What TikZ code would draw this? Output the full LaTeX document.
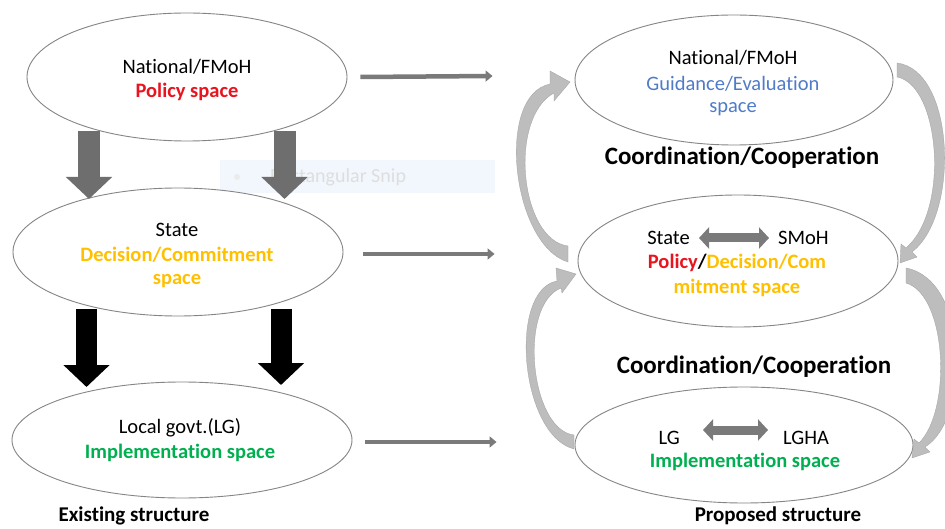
\documentclass[tikz,border=0pt]{standalone}
\usepackage{fontspec}
\setmainfont{Carlito}[Ligatures=NoCommon]
\usetikzlibrary{arrows.meta,calc,shapes.geometric}
\definecolor{ringgray}{HTML}{858585}
\definecolor{flowgray}{HTML}{7A7A7A}
\definecolor{blockgray}{HTML}{6E6E6E}
\definecolor{loopgray}{HTML}{BDBDBD}
\definecolor{policyred}{HTML}{E8141E}
\definecolor{decisiongold}{HTML}{FFC000}
\definecolor{guideblue}{HTML}{4F7BC8}
\definecolor{implgreen}{HTML}{00B050}
\definecolor{snipblue}{HTML}{F2F7FD}
\begin{document}
\begin{tikzpicture}[x=1pt,y=-1pt,
  space/.style={ellipse, draw=ringgray, line width=0.9pt, fill=white, inner sep=0pt},
  txt/.style={inner sep=0pt, font=\fontsize{20.5}{24}\selectfont},
  btxt/.style={inner sep=0pt, font=\fontsize{20.5}{24}\selectfont\bfseries},
  lbl/.style={inner sep=0pt, font=\fontsize{21}{24}\selectfont\bfseries},
  coord/.style={inner sep=0pt, font=\fontsize{25}{28}\selectfont\bfseries},
  flow/.style={draw=flowgray, line width=4.5pt, -{Triangle[width=11pt,length=7pt]}},
  downgray/.style={draw=blockgray, line width=22pt, -{Triangle[width=45pt,length=22pt]}},
  downblack/.style={draw=black, line width=21pt, -{Triangle[width=45pt,length=22pt]}},
  both/.style={draw=flowgray, line width=9pt, {Triangle[width=21pt,length=10pt]}-{Triangle[width=21pt,length=10pt]}},
  loop/.style={fill=loopgray, draw=loopgray!85!black, line width=0.3pt}
]
\useasboundingbox (0,0) rectangle (945,529);
\fill[white] (0,0) rectangle (945,529);

% faint snipping-tool overlay
\fill[snipblue] (220,160) rectangle (495,193);
\fill[black!8] (237,177) circle (3pt);
\node[inner sep=0pt, text=black!13, font=\fontsize{20}{22}\selectfont, anchor=west] (snip) at (270,177) {Rectangular Snip};

% ---------- existing structure ----------
\node[space, minimum width=320pt, minimum height=128pt] (ltop) at (187,77) {};
\node[space, minimum width=330pt, minimum height=128pt] (lmid) at (178,252) {};
\node[space, minimum width=340pt, minimum height=116pt] (lbot) at (182,440) {};

\node[txt] (ltopa) at (187,67) {National/FMoH};
\node[btxt, text=policyred] (ltopb) at (187,92) {Policy space};
\node[txt] (lmida) at (177,230) {State};
\node[btxt, text=decisiongold] (lmidb) at (177,255) {Decision/Commitment};
\node[btxt, text=decisiongold] (lmidc) at (177,281) {space};
\node[txt] (lbota) at (180,428) {Local govt.(LG)};
\node[btxt, text=implgreen] (lbotb) at (180,453) {Implementation space};

% block arrows between levels
\draw[downgray] (89,131) -- (89,199);
\draw[downgray] (284.5,131) -- (284.5,199);
\draw[downblack] (86.5,309) -- (86.5,387);
\draw[downblack] (281,309) -- (281,385);

\node[lbl] (exist) at (134,516) {Existing structure};

% ---------- proposed structure ----------
\node[space, minimum width=318pt, minimum height=130pt] (rtop) at (734,80) {};
\node[space, minimum width=320pt, minimum height=132pt] (rmid) at (738,261) {};
\node[space, minimum width=338pt, minimum height=116pt] (rbot) at (744,445) {};

\node[txt] (rtopa) at (733,58) {National/FMoH};
\node[txt, text=guideblue] (rtopb) at (733,84) {Guidance/Evaluation};
\node[txt, text=guideblue] (rtopc) at (733,109) {space};

\node[coord] (coop1) at (742,158) {Coordination/Cooperation};

\node[txt, anchor=east] (state) at (690,238) {State};
\node[txt, anchor=west] (smoh) at (778,238) {SMoH};
\draw[both] ($(state.east)+(9,0)$) -- ($(smoh.west)+(-9,0)$);
\node[btxt] (rmidb) at (737,263) {\textcolor{policyred}{Policy}/\textcolor{decisiongold}{Decision/Com}};
\node[btxt, text=decisiongold] (rmidc) at (737,288) {mitment space};

\node[coord] (coop2) at (754,367) {Coordination/Cooperation};

\node[txt, anchor=east] (lg) at (680,438) {LG};
\node[txt, anchor=west] (lgha) at (783,438) {LGHA};
\draw[both] (703,430) -- (768,430);
\node[btxt, text=implgreen] (rbotb) at (745,462) {Implementation space};

\node[lbl] (propose) at (778,516) {Proposed structure};

% mapping arrows from existing to proposed
\draw[flow] ($(ltop.east)+(13,0)$) -- ($(rtop.west)+(-82,-4)$);
\draw[flow] ($(lmid.east)+(20,2)$) -- ($(rmid.west)+(-83,-7)$);
\draw[flow] ($(lbot.east)+(13,2)$) -- ($(rbot.west)+(-78,-3)$);

% curved coordination arrows
\path[loop] (568,262) .. controls (512,245) and (495,95) .. (550,84)
  -- (550,71) -- (570,82) -- (554,101) -- (554,93)
  .. controls (508,118) and (520,240) .. (568,246) -- cycle;
\path[loop] (574,449) .. controls (520,435) and (508,290) .. (557,281)
  -- (556,268) -- (576,274) -- (562,293) -- (561,288)
  .. controls (518,305) and (530,430) .. (574,435) -- cycle;
\path[loop] (897,63) .. controls (955,70) and (960,215) .. (912,252)
  -- (917,257) -- (900,263) -- (901,244) -- (906,248)
  .. controls (950,210) and (940,85) .. (897,77) -- cycle;
\path[loop] (906,268) .. controls (970,280) and (970,420) .. (925,447)
  -- (930,452) -- (912,458) -- (914,439) -- (919,443)
  .. controls (952,410) and (947,295) .. (906,283) -- cycle;
\end{tikzpicture}
\end{document}
